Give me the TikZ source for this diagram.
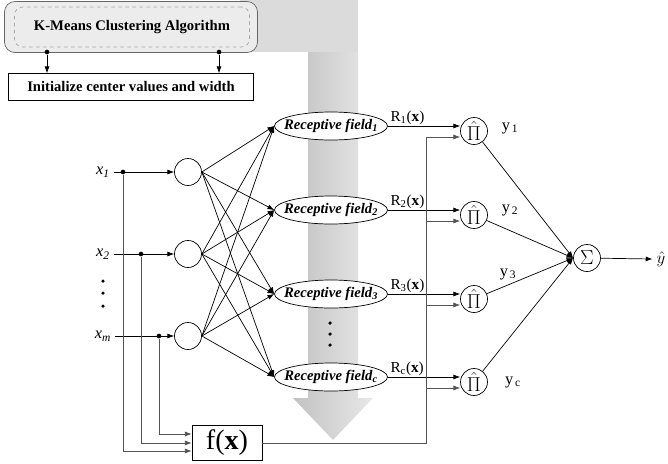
\documentclass[tikz,border=0pt]{standalone}
\usepackage{fontspec}
\setmainfont{Liberation Serif}
\usetikzlibrary{arrows.meta,positioning,shapes.geometric}

\begin{document}
\begin{tikzpicture}[
  x=0.03cm, y=-0.03cm, line width=0.6pt,
  every node/.style={font=\fontsize{12}{14}\selectfont},
  conn/.style={-{Latex[length=2mm,width=1.5mm]}},
  bus/.style={draw=gray!65!black},
  neuron/.style={draw, circle, fill=white, minimum size=0.81cm, inner sep=0pt},
  field/.style={draw, ellipse, fill=white, minimum width=3.39cm, minimum height=0.84cm, inner sep=0pt},
  fieldtext/.style={font=\bfseries\itshape\fontsize{12.5}{14}\selectfont},
  dot/.style={circle, fill, inner sep=0pt, minimum size=4pt},
  lab/.style={inner sep=1pt},
  big/.style={font=\fontsize{14}{16}\selectfont},
  prod/.style={neuron, font=\fontsize{17}{19}\selectfont}
]
\useasboundingbox (0,0) rectangle (668,463);

% big gray arrow in the background
\fill[gray!28] (240,0) rectangle (358,52);
\shade[left color=gray!48, right color=gray!18]
  (308,52) -- (308,398) -- (293,398) -- (333,440) -- (373,398) -- (358,398) -- (358,52) -- cycle;

% clustering part
\node[draw=gray!80!black, rounded corners=9pt, fill=gray!15, minimum width=7.59cm, minimum height=1.53cm] (kmbox) at (131,27) {};
\node[draw=gray!70, dashed, rounded corners=7pt, minimum width=7.05cm, minimum height=1.2cm, font=\bfseries\fontsize{12.5}{14}\selectfont] (kmeans) at (132,27) {K-Means Clustering Algorithm};
\node[draw, minimum width=7.35cm, minimum height=0.81cm, font=\bfseries\fontsize{12.5}{14}\selectfont] (init) at (131,87) {Initialize center values and width};
\node[dot] (k1) at (47,52) {};
\node[dot] (k2) at (219,52) {};
\draw[conn] (k1) -- (k1 |- init.north);
\draw[conn] (k2) -- (k2 |- init.north);

% inputs
\node[big] (x1) at (103,172) {\textit{x}\textsubscript{\textit{1}}};
\node[big] (x2) at (103,254) {\textit{x}\textsubscript{\textit{2}}};
\node[big] (xm) at (103,336) {\textit{x}\textsubscript{\textit{m}}};
\foreach \y in {281,293,306}
  \fill (103,\y) circle (1.5pt);

% hidden neurons
\node[neuron] (h1) at (188,172) {};
\node[neuron] (h2) at (188,254) {};
\node[neuron] (h3) at (188,336) {};
\draw[conn] (x1) -- (h1);
\draw[conn] (x2) -- (h2);
\draw[conn] (xm) -- (h3);

% f(x) block
\node[draw, minimum width=2.1cm, minimum height=1.05cm, inner sep=1pt, font=\fontsize{24}{26}\selectfont] (fx) at (227,443) {f(\textbf{x})};
\node[dot] (d1) at (123,172) {};
\node[dot] (d2) at (141,254) {};
\node[dot] (d3) at (159,336) {};
\draw[bus, conn] (d1) |- (fx.west |- 0,451);
\draw[bus, conn] (d2) |- (fx.west |- 0,443);
\draw[bus, conn] (d3) |- (fx.west |- 0,434);

% receptive fields
\node[field, label={[fieldtext]center:Receptive field\textsubscript{1}}] (r1) at (331,126) {};
\node[field, label={[fieldtext]center:Receptive field\textsubscript{2}}] (r2) at (331,210) {};
\node[field, label={[fieldtext]center:Receptive field\textsubscript{3}}] (r3) at (331,294) {};
\node[field, label={[fieldtext]center:Receptive field\textsubscript{c}}] (r4) at (331,377) {};
\foreach \y in {323,334,345}
  \fill (330,\y) circle (1.5pt);

\foreach \h in {h1,h2,h3}
  \foreach \r in {r1,r2,r3,r4}
    \draw[conn] (\h.east) -- (\r.west);

% product nodes
\node[prod] (p1) at (474,131) {$\hat{\Pi}$};
\node[prod] (p2) at (474,215) {$\hat{\Pi}$};
\node[prod] (p3) at (474,299) {$\hat{\Pi}$};
\node[prod] (p4) at (474,382) {$\hat{\Pi}$};

\foreach \i/\s in {1/1,2/2,3/3,4/c} {
  \draw[conn] (r\i.east) -- (r\i.east -| p\i.west);
  \node[lab, above right=0pt and 1pt of r\i.east, font=\fontsize{13}{15}\selectfont] {R\textsubscript{\s}(\textbf{x})};
}

% bus from f(x)
\coordinate (b1) at (426,137);
\coordinate (b2) at (426,221);
\coordinate (b3) at (426,305);
\coordinate (b4) at (426,388);
\draw[bus] (fx.east) -| (b1);
\foreach \i in {1,...,4}
  \draw[bus, conn] (b\i) -- (b\i -| p\i.west);

% summation
\node[neuron, font=\fontsize{16}{18}\selectfont] (s) at (587,258) {$\Sigma$};
\foreach \i in {1,...,4}
  \draw[conn] (p\i) -- (s.west);
\node[lab, big] at (510,128) {y\textsubscript{\,1}};
\node[lab, big] at (510,210) {y\textsubscript{\,2}};
\node[lab, big] at (508,274) {y\textsubscript{\,3}};
\node[lab, big] at (513,382) {y\textsubscript{\,c}};

\node[big] (yhat) at (661,259) {$\hat{y}$};
\draw[conn] (s) -- (yhat.west);
\end{tikzpicture}
\end{document}
